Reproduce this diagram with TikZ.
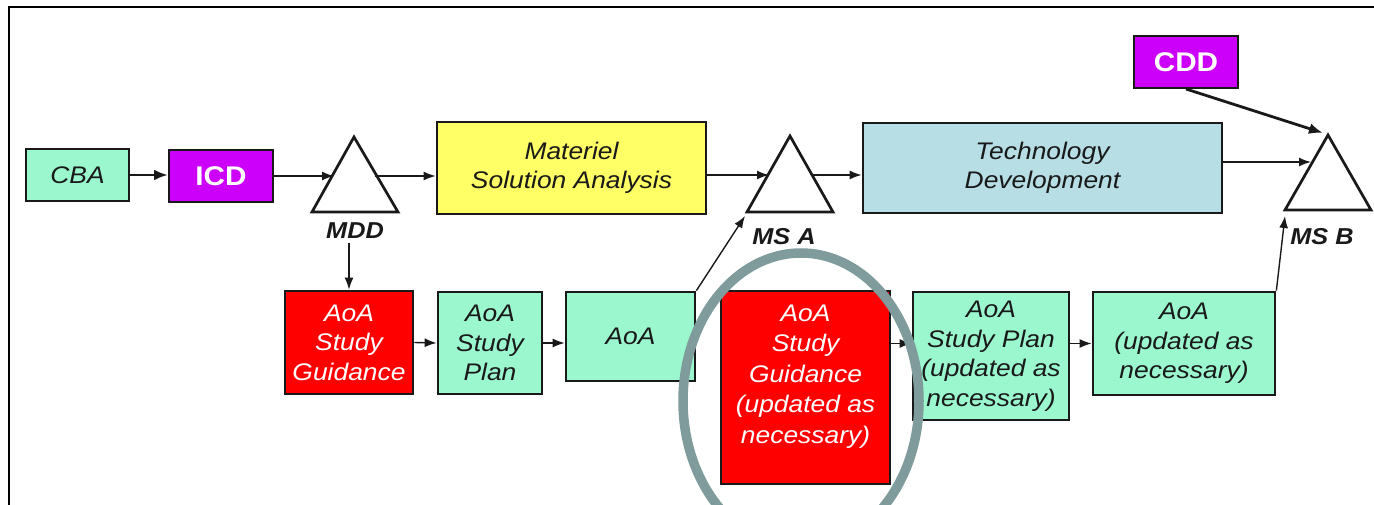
\documentclass[tikz,border=0pt]{standalone}
\usepackage{fontspec}
\setmainfont{Liberation Sans}[FakeStretch=1.1]
\usetikzlibrary{arrows.meta}
\definecolor{mint}{RGB}{155,247,206}
\definecolor{lemon}{RGB}{255,255,102}
\definecolor{powder}{RGB}{183,222,228}
\definecolor{violet}{RGB}{204,0,250}
\definecolor{brightred}{RGB}{255,0,0}
\definecolor{ringgrey}{RGB}{127,155,155}
\definecolor{ink}{RGB}{25,25,25}
\begin{document}
\begin{tikzpicture}[x=1pt,y=-1pt,
  box/.style={draw=ink, line width=2.7pt, inner sep=0pt, align=center,
    font=\fontsize{24}{29.5}\selectfont\itshape, text=ink},
  mintbox/.style={box, fill=mint},
  redbox/.style={box, fill=brightred, text=white},
  docbox/.style={draw=ink, line width=2pt, fill=violet, text=white, inner sep=0pt,
    font=\fontsize{27}{30}\selectfont\bfseries},
  tri/.style={draw=ink, line width=2.7pt, fill=white, line join=miter},
  mslabel/.style={font=\fontsize{23}{26}\selectfont\bfseries\itshape, text=ink, inner sep=0pt},
  conn/.style={draw=ink, line width=1.4pt, -{Latex[length=12pt,width=9pt]}},
  thickconn/.style={draw=ink, line width=2.8pt, -{Latex[length=14pt,width=11pt]}},
  ring/.style={draw=ringgrey, line width=9.5pt}
]
\useasboundingbox (0,0) rectangle (1374,505);
\draw[line width=2.5pt, black] (9,505) -- (9,7) -- (1374,7);

% top row boxes
\node[mintbox, minimum width=103pt, minimum height=52pt] (cba) at (77.5,175) {CBA};
\node[docbox, minimum width=104pt, minimum height=52pt] (icd) at (221,176) {ICD};
\node[box, fill=lemon, minimum width=269pt, minimum height=92pt] (mat) at (571.5,168) {Materiel\\Solution Analysis};
\node[box, fill=powder, minimum width=359pt, minimum height=90pt] (tech) at (1042.5,168) {Technology\\Development};
\node[docbox, minimum width=104pt, minimum height=52pt] (cdd) at (1186,62) {CDD};

% milestone triangles
\draw[tri] (354,137) -- (312,212) -- (398,212) -- cycle;
\draw[tri] (790,136) -- (747,212) -- (833,212) -- cycle;
\draw[tri] (1328,135) -- (1285,210) -- (1371,210) -- cycle;
\coordinate (mddL) at (334,176);
\coordinate (mddR) at (375,176);
\coordinate (msaL) at (769,175);
\coordinate (msaR) at (812,175);
\coordinate (msaB) at (745,216);
\coordinate (msbL) at (1311,162);
\coordinate (msbT) at (1323,133);
\coordinate (msbB) at (1285,216);
\node[mslabel] (mdd) at (355,231) {MDD};
\node[mslabel] (msa) at (784,237) {MS A};
\node[mslabel] (msb) at (1322,237) {MS B};

% bottom row boxes
\node[redbox, minimum width=128pt, minimum height=103pt] (sg1) at (349,342.5) {AoA\\Study\\Guidance};
\node[mintbox, minimum width=104pt, minimum height=102pt] (sp1) at (490,343) {AoA\\Study\\Plan};
\node[mintbox, minimum width=129pt, minimum height=89pt] (aoa1) at (630.5,336.5) {AoA};
\node[redbox, minimum width=169pt, minimum height=193pt,
  label={[anchor=north, inner sep=0pt, label distance=0pt, yshift=-15pt, align=center,
    font=\fontsize{24}{30.5}\selectfont\itshape, text=white]north:AoA\\Study\\Guidance\\(updated as\\necessary)}] (sg2) at (805.5,387.5) {};
\node[mintbox, minimum width=156pt, minimum height=128pt] (sp2) at (991,356) {AoA\\Study Plan\\(updated as\\necessary)};
\node[mintbox, minimum width=182pt, minimum height=103pt] (aoa2) at (1184,343.5) {AoA\\(updated as\\necessary)};

% connectors
\draw[thickconn] (cba.east) -- (cba.east -| icd.west);
\draw[conn] (icd.east) -- (mddL);
\draw[conn] (mddR) -- (mddR -| mat.west);
\draw[conn] (mat.east |- msaL) -- (msaL);
\draw[conn] (msaR) -- (msaR -| tech.west);
\draw[conn] (tech.east |- msbL) -- (msbL);
\draw[thickconn] (cdd.south) -- (msbT);
\draw[conn] (sg1.north |- mdd.south) ++(0,4) -- (sg1.north);
\draw[conn] (sg1.east) -- (sp1.west);
\draw[conn] (sp1.east) -- (sp1.east -| aoa1.west);
\draw[conn] (aoa1.north east) -- (msaB);
\draw[conn] (sg2.east |- aoa2.west) -- (sp2.west |- aoa2.west);
\draw[conn] (sp2.east |- aoa2.west) -- (aoa2.west);
\draw[conn] (aoa2.north east) -- (msbB);

% highlight ring
\begin{scope}
\clip (0,0) rectangle (1374,505);
\draw[ring] (801,401) ellipse [x radius=118, y radius=148];
\end{scope}
\end{tikzpicture}
\end{document}
